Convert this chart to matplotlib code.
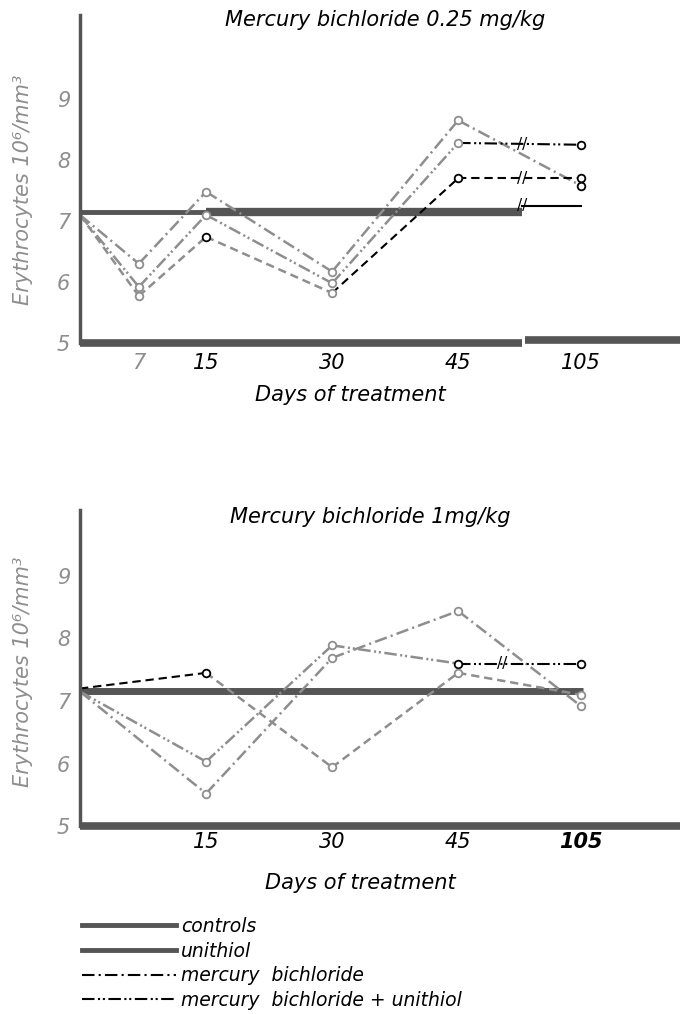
import matplotlib.pyplot as plt
from matplotlib.lines import Line2D

plt.rcParams['font.family'] = ['Liberation Sans Narrow', 'DejaVu Sans']
plt.rcParams['font.style'] = 'italic'
plt.rcParams['lines.scale_dashes'] = False

# days of treatment (105 sits after the axis break)
days_top = [0, 7, 15, 30, 45, 105]
days_bot = [0, 15, 30, 45, 105]
xticks_top = [7, 15, 30, 45, 105]
xticks_bot = [15, 30, 45, 105]
yticks = [5, 6, 7, 8, 9]

# erythrocytes 10^6/mm3, mercury bichloride 0.25 mg/kg
mb_top = [7.1, 6.3, 7.48, 6.17, 8.65, 7.58]
mbu_top = [7.1, 5.92, 7.1, 5.98, 8.28, 8.25]
dash_top = [7.1, 5.77, 6.74, 5.82, 7.7, 7.7]
controls_top = [7.15, 7.25]     # before / after the break

# mercury bichloride 1 mg/kg
mb_bot = [7.15, 5.52, 7.69, 8.44, 6.92]
mbu_bot = [7.15, 6.03, 7.89, 7.6, 7.6]
dash_bot = [7.2, 7.45, 5.94, 7.45, 7.1]
controls_bot = 7.16

legend_labels = ['controls', 'unithiol', 'mercury  bichloride',
                 'mercury  bichloride + unithiol']

GRAY = '#8e8e8e'
DARK = '#555555'
BREAK = 52.6
XMAX = 71.4

DASHDOT = (9, 3, 1.5, 3)
DASHDOTDOT = (9, 2.5, 1.5, 2, 1.5, 2.5)
DASHED = (6, 3.5)


def xpos(d):
    # broken axis: 105 is drawn just after the break
    return d if d <= 45 else 59.6


def draw_series(ax, days, vals, dashes, seg_colors, mk_colors):
    xs = [xpos(d) for d in days]
    for i in range(len(xs) - 1):
        ax.plot(xs[i:i + 2], vals[i:i + 2], color=seg_colors[i],
                dashes=dashes, lw=1.8 if seg_colors[i] == GRAY else 1.5)
    for x, y, c in zip(xs[1:], vals[1:], mk_colors):
        ax.plot(x, y, 'o', ms=5.5, mfc='white', mec=c, mew=1.3, zorder=5)


def setup(ax, ymax, ticks, title, ylab_y, title_xy, xlab_xy, xpad):
    ax.set_xlim(0, XMAX)
    ax.set_ylim(5, ymax)
    for s in ['top', 'right', 'bottom']:
        ax.spines[s].set_visible(False)
    ax.spines['left'].set_color(DARK)
    ax.spines['left'].set_linewidth(2.5)
    ax.set_yticks(yticks)
    ax.set_xticks([xpos(d) for d in ticks])
    ax.set_xticklabels([str(d) for d in ticks])
    ax.tick_params(axis='y', length=0, pad=7, labelsize=15, labelcolor=GRAY)
    ax.tick_params(axis='x', length=0, pad=xpad, labelsize=15)
    ax.set_ylabel('Erythrocytes 10⁶/mm³', fontsize=15, color=GRAY)
    ax.yaxis.set_label_coords(-0.078, ylab_y)
    ax.text(title_xy[0], title_xy[1], title, transform=ax.transAxes,
            ha='center', va='center', fontsize=15)
    ax.text(xlab_xy[0], xlab_xy[1], 'Days of treatment', transform=ax.transAxes,
            ha='center', va='center', fontsize=15)


fig = plt.figure(figsize=(6.8, 10.14), dpi=100)
ax1 = fig.add_axes([80 / 680, 1 - 343 / 1014, 600 / 680, 328 / 1014])
ax2 = fig.add_axes([80 / 680, 1 - 826 / 1014, 600 / 680, 316 / 1014])

# ---- top panel
setup(ax1, 5 + 328 / 61, xticks_top, 'Mercury bichloride 0.25 mg/kg',
      0.466, (0.508, 0.985), (0.45, -0.158), 7)
ax1.get_xticklabels()[0].set_color(GRAY)

ax1.plot([0, BREAK], [5, 5], color=DARK, lw=5.5, clip_on=False, solid_capstyle='butt')
ax1.plot([BREAK + 0.4, XMAX], [5.05, 5.05], color=DARK, lw=5.5, clip_on=False,
         solid_capstyle='butt')
ax1.plot([0, 15], [controls_top[0]] * 2, color=DARK, lw=3.5, solid_capstyle='butt')
ax1.plot([15, BREAK], [controls_top[0]] * 2, color=DARK, lw=6, solid_capstyle='butt')
ax1.plot([BREAK, xpos(105)], [controls_top[1]] * 2, color='black', lw=1.5)

draw_series(ax1, days_top, mb_top, DASHDOT, [GRAY] * 5, [GRAY] * 4 + ['black'])
draw_series(ax1, days_top, mbu_top, DASHDOTDOT, [GRAY] * 4 + ['black'],
            [GRAY] * 4 + ['black'])
draw_series(ax1, days_top, dash_top, DASHED, [GRAY, GRAY, GRAY, 'black', 'black'],
            [GRAY, 'black', GRAY, 'black', 'black'])
for v in [mbu_top[-1], dash_top[-1], controls_top[1]]:
    ax1.text(BREAK, v, '//', ha='center', va='center', fontsize=11,
             fontstyle='normal', color='black')

# ---- bottom panel
setup(ax2, 5 + 316 / 62.5, xticks_bot, 'Mercury bichloride 1mg/kg',
      0.487, (0.483, 0.978), (0.467, -0.18), 4)
ax2.get_xticklabels()[-1].set_fontweight('bold')

ax2.plot([0, XMAX], [5, 5], color=DARK, lw=5.5, clip_on=False, solid_capstyle='butt')
ax2.plot([0, xpos(105) + 0.3], [controls_bot] * 2, color=DARK, lw=5,
         solid_capstyle='butt')

draw_series(ax2, days_bot, mb_bot, DASHDOT, [GRAY] * 4, [GRAY] * 4)
draw_series(ax2, days_bot, mbu_bot, DASHDOTDOT, [GRAY] * 3 + ['black'],
            [GRAY, GRAY, 'black', 'black'])
draw_series(ax2, days_bot, dash_bot, DASHED, ['black', GRAY, GRAY, GRAY],
            ['black', GRAY, GRAY, GRAY])
ax2.text(50.2, mbu_bot[-1], '//', ha='center', va='center', fontsize=11,
         fontstyle='normal', color='black')

# ---- legend
handles = [
    Line2D([], [], color=DARK, lw=3.5),
    Line2D([], [], color=DARK, lw=3.5),
    Line2D([], [], color='black', lw=1.5, dashes=DASHDOT),
    Line2D([], [], color='black', lw=1.5, dashes=DASHDOTDOT),
]
fig.legend(handles, legend_labels, loc='upper left',
           bbox_to_anchor=(82 / 680, 1 - 917 / 1014), frameon=False,
           fontsize=13.5, handlelength=5.0, handletextpad=0.3,
           labelspacing=0.3, borderpad=0, borderaxespad=0)

fig.savefig('out.png', dpi=100)
